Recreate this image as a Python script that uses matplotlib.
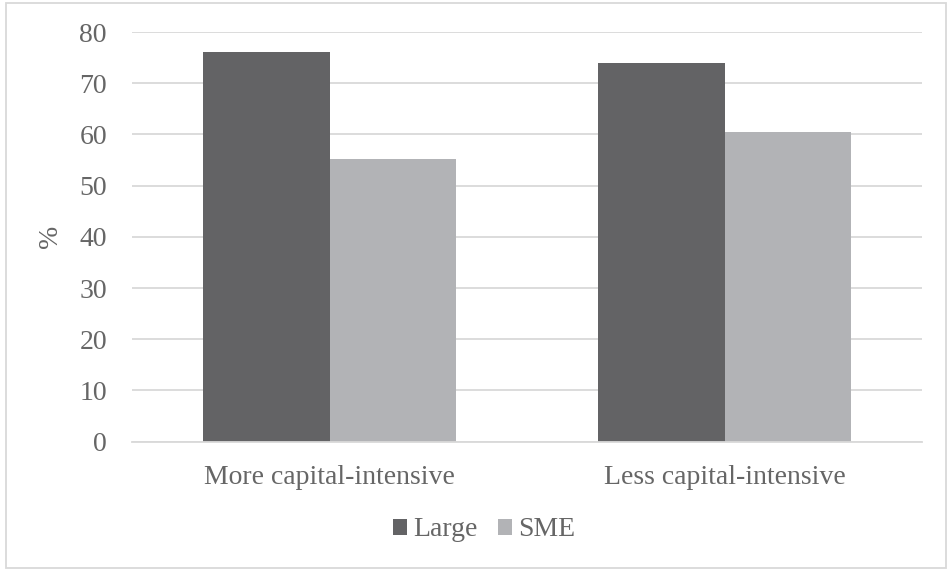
import numpy as np
import matplotlib
matplotlib.use("Agg")
from matplotlib import pyplot as plt
from matplotlib.patches import Rectangle

categories = ["More capital-intensive", "Less capital-intensive"]
large = [76.0, 74.0]
sme = [55.1, 60.5]
yticks = [0, 10, 20, 30, 40, 50, 60, 70, 80]

plt.rcParams['font.family'] = ['Liberation Serif', 'DejaVu Serif']
txt = '#666666'
fs = 20

fig = plt.figure(figsize=(9.5, 5.71), dpi=100)
ax = fig.add_axes([132 / 950, 1 - 441.6 / 571, (922 - 132) / 950, (441.6 - 32) / 571])

x = np.arange(len(categories))
w = 0.3215
ax.bar(x - w / 2, large, w, color='#636365', label='Large', zorder=2)
ax.bar(x + w / 2, sme, w, color='#b2b3b6', label='SME', zorder=2)

ax.set_xlim(-0.5, 1.5)
ax.set_ylim(0, 80)
ax.set_yticks(yticks)
ax.set_xticks(x)
ax.set_xticklabels(categories)
ax.yaxis.grid(True, color='#d9d9d9', linewidth=1.3, zorder=0)
ax.set_axisbelow(True)
for s in ['top', 'right', 'left']:
    ax.spines[s].set_visible(False)
ax.spines['bottom'].set_color('#d9d9d9')
ax.spines['bottom'].set_linewidth(1.3)
ax.tick_params(axis='both', length=0, labelsize=fs, labelcolor=txt)
ax.tick_params(axis='y', pad=18)
ax.tick_params(axis='x', pad=17)
ax.set_ylabel('%', fontsize=fs, color=txt, labelpad=12)

fig.legend(loc='center', bbox_to_anchor=(484 / 950, 1 - 530 / 571), ncol=2,
           frameon=False, fontsize=fs, labelcolor=txt, handlelength=0.5,
           handleheight=0.5, handletextpad=0.22, columnspacing=0.75)

fig.patches.append(Rectangle((6 / 950, 3 / 571), 940 / 950, 565 / 571,
                             transform=fig.transFigure, fill=False,
                             edgecolor='#d9d9d9', linewidth=1.3))

fig.savefig('out.png', dpi=100, facecolor='white')
